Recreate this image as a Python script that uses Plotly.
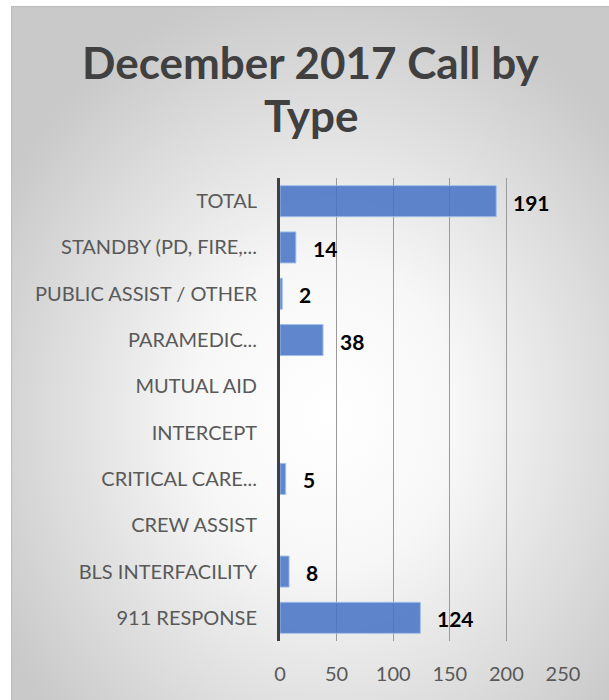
import base64
import plotly.graph_objects as go

# ---- data ----
categories = [
    "TOTAL",
    "STANDBY (PD, FIRE,...",
    "PUBLIC ASSIST / OTHER",
    "PARAMEDIC...",
    "MUTUAL AID",
    "INTERCEPT",
    "CRITICAL CARE...",
    "CREW ASSIST",
    "BLS INTERFACILITY",
    "911 RESPONSE",
]
calls = [191, 14, 2, 38, None, None, 5, None, 8, 124]
x_ticks = [0, 50, 100, 150, 200, 250]
title_lines = ["December 2017 Call by", "Type"]

# ---- geometry ----
W, H = 609, 700
ML, MR, MT, MB = 280, 46, 178, 59
PW, PH = W - ML - MR, H - MT - MB
FONT = "Lato, Calibri, sans-serif"


def px_to_paper_x(px):
    return (px - ML) / PW


def px_to_paper_y(py):
    return (H - MB - py) / PH


# radial gradient background (chart area) as inline SVG
bg_left, bg_top = 11, 6
svg = f"""<svg xmlns='http://www.w3.org/2000/svg' width='{W-bg_left}' height='{H-bg_top}' viewBox='0 0 {W-bg_left} {H-bg_top}' preserveAspectRatio='none'>
<defs><radialGradient id='g' cx='0.52' cy='0.58' r='0.62' fx='0.52' fy='0.58'>
<stop offset='0' stop-color='#ffffff'/>
<stop offset='0.35' stop-color='#f7f7f7'/>
<stop offset='1' stop-color='#c9c9c9'/>
</radialGradient></defs>
<rect x='0.5' y='0.5' width='{W-bg_left+10}' height='{H-bg_top+10}' fill='url(#g)' stroke='#bdbdbd' stroke-width='1.2'/>
</svg>"""
svg_uri = "data:image/svg+xml;base64," + base64.b64encode(svg.encode()).decode()

fig = go.Figure()
fig.add_trace(go.Bar(
    x=calls,
    y=categories,
    orientation="h",
    marker=dict(color="rgba(68,114,196,0.85)", line=dict(color="rgba(160,190,235,0.9)", width=1)),
    width=0.67,
    hoverinfo="x+y",
))

annotations = []
for c, v in zip(categories, calls):
    if v is None:
        continue
    annotations.append(dict(
        x=v, y=c, xref="x", yref="y", text=f"<b>{v}</b>",
        showarrow=False, xanchor="left", yanchor="middle", xshift=15, yshift=-1,
        font=dict(family=FONT, size=21, color="#000000"),
    ))

for line, py in zip(title_lines, [62, 115]):
    annotations.append(dict(
        x=px_to_paper_x(311), y=px_to_paper_y(py), xref="paper", yref="paper",
        text=f"<b>{line}</b>", showarrow=False, xanchor="center", yanchor="middle",
        font=dict(family=FONT, size=44, color="#404040"),
    ))

fig.update_layout(
    width=W, height=H,
    margin=dict(l=ML, r=MR, t=MT, b=MB, pad=0),
    paper_bgcolor="#ffffff",
    plot_bgcolor="rgba(0,0,0,0)",
    showlegend=False,
    annotations=annotations,
    images=[dict(
        source=svg_uri, xref="paper", yref="paper",
        x=px_to_paper_x(bg_left), y=px_to_paper_y(bg_top),
        sizex=(W - bg_left) / PW, sizey=(H - bg_top) / PH,
        xanchor="left", yanchor="top", sizing="stretch", layer="below",
    )],
    xaxis=dict(
        range=[0, 250], tickvals=x_ticks, showgrid=True, gridcolor="#9a9a9a", gridwidth=1,
        zeroline=False, showline=False, ticks="", ticklabelstandoff=19,
        tickfont=dict(family=FONT, size=20, color="#595959"),
        fixedrange=True,
    ),
    yaxis=dict(
        autorange="reversed", showgrid=False, zeroline=False,
        showline=True, linecolor="#404040", linewidth=3, ticks="", ticklabelstandoff=16,
        tickfont=dict(family=FONT, size=20, color="#595959"),
        fixedrange=True,
    ),
    bargap=0.33,
)

fig.write_html(
    "out.html",
    config={"displayModeBar": False},
    post_script="document.body.style.margin='0px';document.body.style.overflow='hidden';",
)
